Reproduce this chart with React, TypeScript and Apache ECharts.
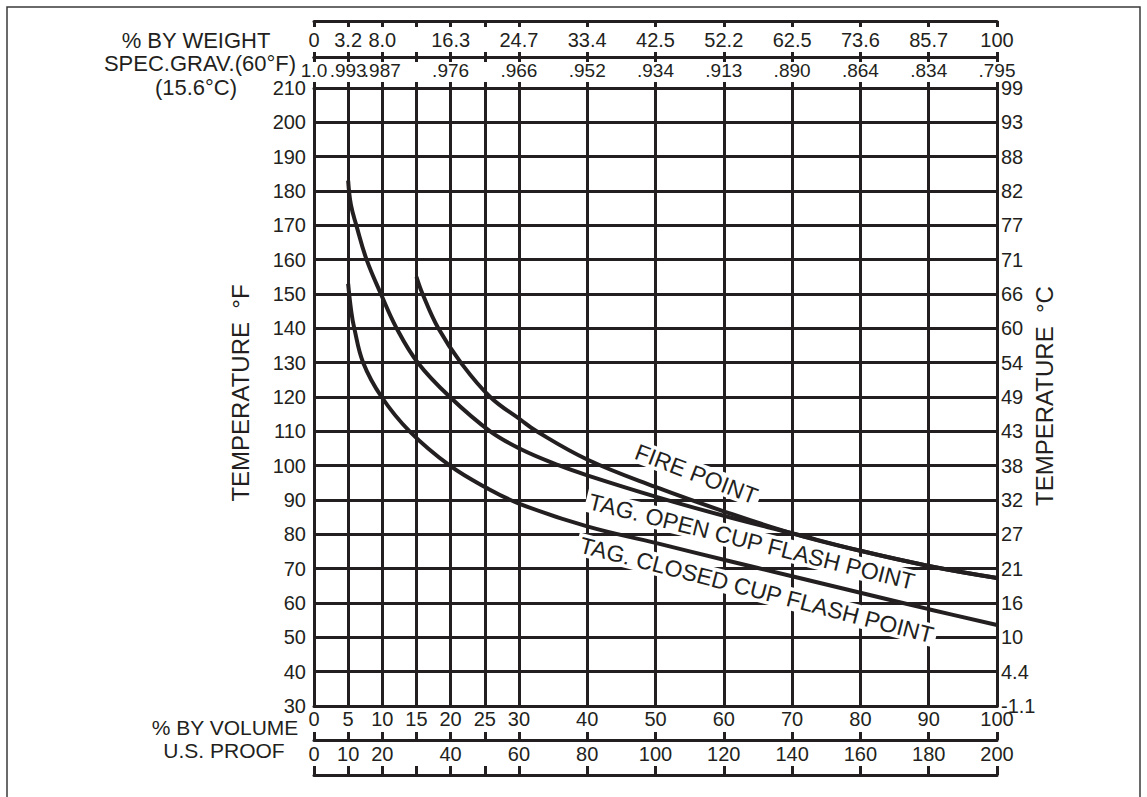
import React, { useEffect, useRef } from 'react';
import * as echarts from 'echarts';

// ---------- data ----------
const volumeTicks = [0, 5, 10, 15, 20, 25, 30, 40, 50, 60, 70, 80, 90, 100];
const labeledVols = [0, 5, 10, 20, 30, 40, 50, 60, 70, 80, 90, 100];
const weightLabels = ['0', '3.2', '8.0', '16.3', '24.7', '33.4', '42.5', '52.2', '62.5', '73.6', '85.7', '100'];
const specGravLabels = ['1.0', '.993', '.987', '.976', '.966', '.952', '.934', '.913', '.890', '.864', '.834', '.795'];
const proofLabels = ['0', '10', '20', '40', '60', '80', '100', '120', '140', '160', '180', '200'];
const celsiusLabels = ['-1.1', '4.4', '10', '16', '21', '27', '32', '38', '43', '49', '54', '60', '66', '71', '77', '82', '88', '93', '99'];
const tempMinF = 30;
const tempMaxF = 210;
const tempStepF = 10;

const closedCupVol = [5, 5.45, 5.9, 7.2, 9.9, 14, 19.9, 25.3, 30.2, 40, 50, 60, 70, 80, 90, 100];
const closedCupF = [153, 145, 140, 130, 120, 110, 100, 93.5, 88.8, 82.3, 77.5, 72.6, 67.8, 63, 58.2, 53.6];

const openCupVol = [5, 5.4, 6.2, 7.7, 9.8, 12.1, 15.2, 19.9, 25.8, 30.3, 36, 40, 50, 60, 70, 80, 90, 100];
const openCupF = [183, 176, 170, 160, 150, 140, 130, 120, 110, 104.8, 100, 97.2, 91, 85.4, 80.3, 75.2, 70.8, 67.3];

const fireVol = [15, 15.9, 18.2, 21.5, 25.8, 30.3, 32.6, 40, 50, 60, 70, 80, 90, 100];
const fireF = [155, 150, 140, 130, 120, 113.3, 110, 101.8, 93.8, 86.7, 80.3, 75.2, 70.8, 67.3];

const curveLabels = [
  { text: 'FIRE POINT', vol: 56.0, temp: 97.6, angle: 21 },
  { text: 'TAG. OPEN CUP FLASH POINT', vol: 64.1, temp: 77.9, angle: 14 },
  { text: 'TAG. CLOSED CUP FLASH POINT', vol: 64.8, temp: 63.8, angle: 14.5 },
];

// ---------- style ----------
const FONT = '"Liberation Sans", Arial, Helvetica, sans-serif';
const INK = '#231f20';

const zip = (xs: number[], ys: number[]) => xs.map((x, i) => [x, ys[i]]);
const lookup = (vals: number[], labels: string[]) => (v: number) => {
  const i = vals.indexOf(Math.round(v * 1000) / 1000);
  return i >= 0 ? labels[i] : '';
};

const baseX = (extra: any) => ({
  type: 'value',
  min: 0,
  max: 100,
  splitLine: { show: false },
  axisLine: { show: true, onZero: false, lineStyle: { color: INK, width: 3 } },
  ...extra,
});

const lbl = (extra: any) => ({ fontSize: 20, color: INK, fontFamily: FONT, ...extra });

export default function App() {
  const ref = useRef<HTMLDivElement>(null);
  useEffect(() => {
    if (!ref.current) return;
    const chart = echarts.init(ref.current, null, { renderer: 'svg' });
    const curveSeries = (name: string, data: number[][]) => ({
      type: 'line',
      name,
      data,
      xAxisIndex: 0,
      yAxisIndex: 0,
      smooth: 0.4,
      symbol: 'none',
      z: 5,
      lineStyle: { color: INK, width: 4 },
      silent: true,
    });
    const option: any = {
      animation: false,
      textStyle: { fontFamily: FONT },
      grid: { left: 314, right: 150, top: 88, bottom: 91, containLabel: false },
      xAxis: [
        baseX({
          position: 'bottom',
          offset: 0,
          axisTick: { show: false },
          axisLabel: lbl({ customValues: volumeTicks, formatter: (v: number) => String(v), margin: 3 }),
        }),
        baseX({
          position: 'bottom',
          offset: 34,
          axisTick: { show: true, inside: true, length: 8, customValues: volumeTicks, lineStyle: { color: INK, width: 3 } },
          axisLabel: lbl({ customValues: labeledVols, formatter: lookup(labeledVols, proofLabels), margin: 4 }),
        }),
        baseX({
          position: 'bottom',
          offset: 69,
          axisTick: { show: true, inside: true, length: 9, customValues: volumeTicks, lineStyle: { color: INK, width: 3 } },
          axisLabel: { show: false },
        }),
        baseX({
          position: 'top',
          offset: 0,
          axisTick: { show: true, inside: false, length: 6, customValues: volumeTicks, lineStyle: { color: INK, width: 3 } },
          axisLabel: lbl({ customValues: labeledVols, formatter: lookup(labeledVols, specGravLabels), margin: 8, fontSize: 19 }),
        }),
        baseX({
          position: 'top',
          offset: 31,
          axisTick: { show: true, inside: false, length: 5, customValues: volumeTicks, lineStyle: { color: INK, width: 3 } },
          axisLabel: lbl({ customValues: labeledVols, formatter: lookup(labeledVols, weightLabels), margin: 7 }),
        }),
        baseX({
          position: 'top',
          offset: 31,
          axisTick: { show: true, inside: true, length: 5, customValues: volumeTicks, lineStyle: { color: INK, width: 3 } },
          axisLabel: { show: false },
        }),
        baseX({
          position: 'top',
          offset: 67,
          axisTick: { show: true, inside: true, length: 6, customValues: volumeTicks, lineStyle: { color: INK, width: 3 } },
          axisLabel: { show: false },
        }),
      ],
      yAxis: [
        {
          type: 'value',
          position: 'left',
          min: tempMinF,
          max: tempMaxF,
          interval: tempStepF,
          axisLine: { show: true, onZero: false, lineStyle: { color: INK, width: 3 } },
          axisTick: { show: false },
          splitLine: { show: true, lineStyle: { color: INK, width: 3 } },
          axisLabel: lbl({ margin: 8 }),
        },
        {
          type: 'value',
          position: 'right',
          min: tempMinF,
          max: tempMaxF,
          interval: tempStepF,
          axisLine: { show: true, onZero: false, lineStyle: { color: INK, width: 3 } },
          axisTick: { show: false },
          splitLine: { show: false },
          axisLabel: lbl({
            margin: 4,
            formatter: (v: number) => celsiusLabels[Math.round((v - tempMinF) / tempStepF)] ?? '',
          }),
        },
      ],
      series: [
        {
          type: 'line',
          name: 'grid',
          data: [],
          xAxisIndex: 0,
          yAxisIndex: 0,
          z: 1,
          silent: true,
          markLine: {
            silent: true,
            symbol: ['none', 'none'],
            label: { show: false },
            lineStyle: { type: 'solid', color: INK, width: 3 },
            emphasis: { disabled: true },
            data: volumeTicks.map((v) => ({ xAxis: v })),
          },
        },
        curveSeries('Tag. closed cup flash point', zip(closedCupVol, closedCupF)),
        curveSeries('Tag. open cup flash point', zip(openCupVol, openCupF)),
        curveSeries('Fire point', zip(fireVol, fireF)),
      ],
    };
    chart.setOption(option);

    const titleText = (id: string, text: string, x: number, y: number, size = 22, rot = 0) => ({
      type: 'text',
      id,
      x,
      y,
      rotation: rot,
      z: 20,
      silent: true,
      style: { text, fill: INK, font: `${size}px ${FONT}`, align: 'center', verticalAlign: 'middle' },
    });

    const labels = curveLabels.map((c, i) => {
      const p = chart.convertToPixel({ gridIndex: 0 }, [c.vol, c.temp]) as number[];
      return {
        type: 'text',
        id: 'cl' + i,
        x: p[0],
        y: p[1],
        rotation: (-c.angle * Math.PI) / 180,
        z: 30,
        silent: true,
        style: {
          text: c.text,
          fill: INK,
          font: `23px ${FONT}`,
          align: 'center',
          verticalAlign: 'middle',
          backgroundColor: '#ffffff',
          padding: [0, 3],
        },
      };
    });

    chart.setOption({
      graphic: [
        {
          type: 'rect',
          id: 'frame',
          shape: { x: 7, y: 7, width: 1133, height: 820 },
          style: { fill: 'none', stroke: '#3a3a3a', lineWidth: 1.5 },
          silent: true,
          z: 0,
        },
        titleText('t1', '% BY WEIGHT', 196, 40),
        titleText('t2', 'SPEC.GRAV.(60°F)', 200, 63),
        titleText('t3', '(15.6°C)', 196, 87),
        titleText('b1', '% BY VOLUME', 225, 727, 21),
        titleText('b2', 'U.S. PROOF', 224, 750, 21),
        titleText('yl', 'TEMPERATURE  °F', 240, 393, 24, Math.PI / 2),
        titleText('yr', 'TEMPERATURE  °C', 1044, 396, 24, Math.PI / 2),
        ...labels,
      ],
    });

    return () => chart.dispose();
  }, []);
  return (
    <div
      ref={ref}
      style={{ position: 'absolute', left: 0, top: 0, width: 1147, height: 797, background: '#fff' }}
    />
  );
}
